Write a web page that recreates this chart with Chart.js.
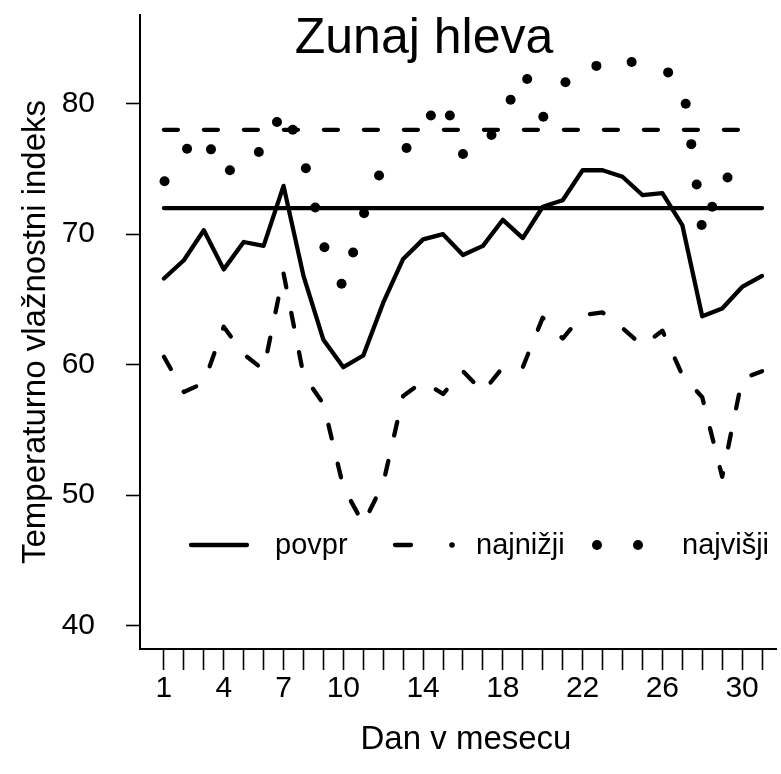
<!DOCTYPE html>
<html><head><meta charset="utf-8">
<script src="https://cdn.jsdelivr.net/npm/chart.js@4.4.1/dist/chart.umd.min.js"></script>
<style>html,body{margin:0;padding:0;background:#fff}#wrap{width:781px;height:774px}</style>
</head><body><div id="wrap"><canvas id="c" width="781" height="774"></canvas></div>
<script>
// ---- data ----
const days = [1,2,3,4,5,6,7,8,9,10,11,12,13,14,15,16,17,18,19,20,21,22,23,24,25,26,27,28,29,30,31];
const avgValues = [66.6,68.0,70.3,67.3,69.4,69.1,73.7,66.8,61.9,59.8,60.7,64.75,68.1,69.6,70.0,68.4,69.1,71.1,69.7,72.1,72.6,74.9,74.9,74.4,73.0,73.15,70.7,63.7,64.3,65.95,66.8];
const minValues = [60.6,57.9,58.6,62.9,60.8,59.6,67.0,59.2,57.0,50.6,47.8,50.9,57.6,58.7,57.75,59.5,57.9,59.8,59.8,63.6,62.0,63.8,64.0,62.8,61.45,62.6,59.2,57.5,51.4,58.9,59.5];
const maxDays = [1.03,2.16,3.36,4.31,5.76,6.67,7.46,8.12,8.59,9.05,9.91,10.49,11.04,11.79,13.17,14.39,15.34,16.0,17.43,18.39,19.22,20.03,21.14,22.69,24.46,26.29,27.17,27.45,27.72,27.97,28.5,29.27];
const maxValues = [74.05,76.55,76.5,74.9,76.3,78.6,78.0,75.05,72.05,69.0,66.2,68.6,71.6,74.5,76.6,79.1,79.1,76.15,77.6,80.3,81.9,79.0,81.65,82.9,83.2,82.4,80.0,76.9,73.8,70.7,72.1,74.35];
const refLevels = [72, 78];
const xTickLabels = [1,4,7,10,14,18,22,26,30];
const yTicks = [40,50,60,70,80];
const seriesNames = ['povpr','najnižji','najvišji'];
const titleText = 'Zunaj hleva';
const xTitleText = 'Dan v mesecu';
const yTitleText = 'Temperaturno vlažnostni indeks';

// ---- drawing ----
const FONT = "'Liberation Sans', Arial, Helvetica, sans-serif";
const BLACK = '#000';
const DASH = [14, 26];
const LW = 4.3;

const lineBase = {borderColor: BLACK, backgroundColor: BLACK, borderWidth: LW, pointRadius: 0,
  borderCapStyle: 'round', borderJoinStyle: 'round', tension: 0, fill: false};

const overlayPlugin = {
  id: 'overlay',
  afterDraw(chart) {
    const ctx = chart.ctx;
    ctx.save();
    ctx.fillStyle = BLACK;
    ctx.strokeStyle = BLACK;
    // title
    ctx.font = '50px ' + FONT;
    ctx.textAlign = 'center';
    ctx.textBaseline = 'alphabetic';
    ctx.fillText(titleText, 424, 53);
    // x axis title
    ctx.font = '33px ' + FONT;
    ctx.textBaseline = 'middle';
    ctx.fillText(xTitleText, 466, 740);
    // legend
    const ly = 545;
    ctx.font = '29px ' + FONT;
    ctx.textAlign = 'left';
    ctx.lineWidth = LW;
    ctx.lineCap = 'round';
    ctx.beginPath(); ctx.moveTo(191, ly); ctx.lineTo(247, ly); ctx.stroke();
    ctx.fillText(seriesNames[0], 275, ly + 1);
    ctx.beginPath(); ctx.moveTo(395, ly); ctx.lineTo(411, ly); ctx.stroke();
    ctx.beginPath(); ctx.arc(452, ly, 2.8, 0, Math.PI * 2); ctx.fill();
    ctx.fillText(seriesNames[1], 476, ly + 1);
    ctx.beginPath(); ctx.arc(597, ly, 5, 0, Math.PI * 2); ctx.fill();
    ctx.beginPath(); ctx.arc(638, ly, 5, 0, Math.PI * 2); ctx.fill();
    ctx.fillText(seriesNames[2], 682, ly + 1);
    ctx.restore();
  }
};

new Chart(document.getElementById('c').getContext('2d'), {
  type: 'line',
  data: {
    datasets: [
      Object.assign({}, lineBase, {label: seriesNames[0], data: days.map((d, i) => ({x: d, y: avgValues[i]}))}),
      Object.assign({}, lineBase, {label: seriesNames[1], borderDash: DASH, data: days.map((d, i) => ({x: d, y: minValues[i]}))}),
      {label: seriesNames[2], data: maxDays.map((d, i) => ({x: d, y: maxValues[i]})), showLine: false,
        pointRadius: 5, pointBackgroundColor: BLACK, pointBorderWidth: 0, pointBorderColor: BLACK},
      Object.assign({}, lineBase, {label: 'ref1', data: [{x: days[0], y: refLevels[0]}, {x: days[days.length - 1], y: refLevels[0]}]}),
      Object.assign({}, lineBase, {label: 'ref2', borderDash: DASH, data: [{x: days[0], y: refLevels[1]}, {x: days[days.length - 1], y: refLevels[1]}]})
    ]
  },
  options: {
    responsive: false, animation: false, devicePixelRatio: 1,
    layout: {padding: {top: 15, right: 0, left: 0, bottom: 0}},
    plugins: {legend: {display: false}, tooltip: {enabled: false}, title: {display: false}},
    scales: {
      x: {
        type: 'linear', min: -0.2, max: 31.7,
        afterBuildTicks: s => { s.ticks = days.map(v => ({value: v})); },
        afterFit: s => { s.height = 125; s.paddingLeft = 0; s.paddingRight = 0; },
        ticks: {autoSkip: false, maxRotation: 0, color: BLACK, padding: 1,
          font: {family: FONT, size: 30},
          callback: v => xTickLabels.includes(v) ? String(v) : ''},
        grid: {drawOnChartArea: false, drawTicks: true, tickLength: 21, tickColor: BLACK, tickWidth: 1.6},
        border: {display: true, color: BLACK, width: 2},
        title: {display: false}
      },
      y: {
        type: 'linear', min: 38.2, max: 86.8,
        afterBuildTicks: s => { s.ticks = yTicks.map(v => ({value: v})); },
        afterFit: s => { s.width = 140; s.paddingTop = 0; s.paddingBottom = 0; },
        ticks: {color: BLACK, padding: 31, font: {family: FONT, size: 30}},
        grid: {drawOnChartArea: false, drawTicks: true, tickLength: 14, tickColor: BLACK, tickWidth: 1.6},
        border: {display: true, color: BLACK, width: 2},
        title: {display: true, text: yTitleText, color: BLACK, font: {family: FONT, size: 33}, padding: {top: 16, bottom: 0}}
      }
    }
  },
  plugins: [overlayPlugin]
});
</script></body></html>
